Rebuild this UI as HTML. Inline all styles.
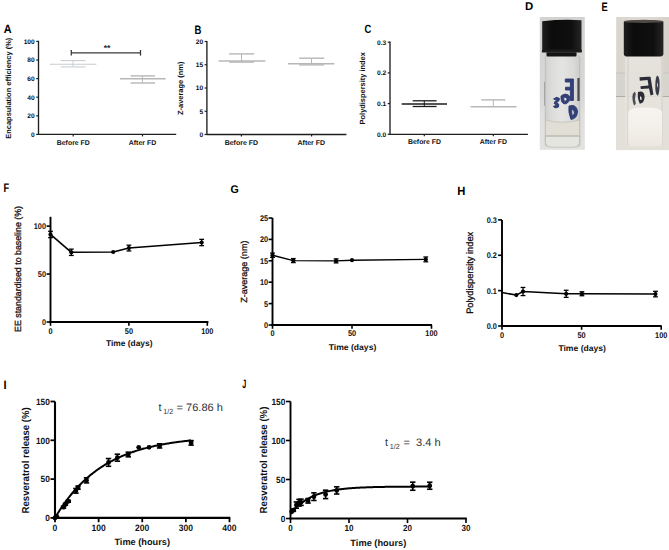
<!DOCTYPE html>
<html><head><meta charset="utf-8"><style>
html,body{margin:0;padding:0;background:#fff;overflow:hidden;}
svg{display:block;}
text{font-family:"Liberation Sans", sans-serif;text-rendering:geometricPrecision;}
</style></head><body>
<svg width="669" height="550" viewBox="0 0 669 550">
<rect width="669" height="550" fill="#fff"/>
<text transform="translate(3.83 33.40) scale(0.902 1)" font-size="12.06" font-weight="bold" fill="#000">A</text>
<line x1="38.50" y1="40.80" x2="38.50" y2="135.00" stroke="#1e1e1e" stroke-width="1.35"/>
<line x1="36.20" y1="41.40" x2="38.50" y2="41.40" stroke="#1e1e1e" stroke-width="1.2"/>
<text x="34.70" y="43.75" font-size="6.6" font-weight="bold" fill="#111" text-anchor="end">100</text>
<line x1="36.20" y1="60.00" x2="38.50" y2="60.00" stroke="#1e1e1e" stroke-width="1.2"/>
<text x="34.70" y="62.35" font-size="6.6" font-weight="bold" fill="#111" text-anchor="end">80</text>
<line x1="36.20" y1="78.60" x2="38.50" y2="78.60" stroke="#1e1e1e" stroke-width="1.2"/>
<text x="34.70" y="80.95" font-size="6.6" font-weight="bold" fill="#111" text-anchor="end">60</text>
<line x1="36.20" y1="97.20" x2="38.50" y2="97.20" stroke="#1e1e1e" stroke-width="1.2"/>
<text x="34.70" y="99.55" font-size="6.6" font-weight="bold" fill="#111" text-anchor="end">40</text>
<line x1="36.20" y1="115.80" x2="38.50" y2="115.80" stroke="#1e1e1e" stroke-width="1.2"/>
<text x="34.70" y="118.15" font-size="6.6" font-weight="bold" fill="#111" text-anchor="end">20</text>
<line x1="36.20" y1="134.40" x2="38.50" y2="134.40" stroke="#1e1e1e" stroke-width="1.2"/>
<text x="34.70" y="136.75" font-size="6.6" font-weight="bold" fill="#111" text-anchor="end">0</text>
<line x1="38.50" y1="134.40" x2="176.20" y2="134.40" stroke="#1e1e1e" stroke-width="1.35"/>
<line x1="73.20" y1="134.40" x2="73.20" y2="136.40" stroke="#1e1e1e" stroke-width="1.2"/>
<line x1="142.50" y1="134.40" x2="142.50" y2="136.40" stroke="#1e1e1e" stroke-width="1.2"/>
<text x="73.30" y="144.70" font-size="7" font-weight="bold" fill="#111" text-anchor="middle" textLength="33" lengthAdjust="spacingAndGlyphs">Before FD</text>
<text x="142.50" y="144.70" font-size="7" font-weight="bold" fill="#111" text-anchor="middle" textLength="27.4" lengthAdjust="spacingAndGlyphs">After FD</text>
<text x="10.90" y="88.20" font-size="7.5" font-weight="bold" fill="#111" text-anchor="middle" transform="rotate(-90 10.90 88.20)" textLength="101" lengthAdjust="spacingAndGlyphs">Encapsulation efficiency (%)</text>
<line x1="71.30" y1="52.80" x2="140.50" y2="52.80" stroke="#3a3a3a" stroke-width="1.3"/>
<line x1="71.30" y1="50.00" x2="71.30" y2="55.60" stroke="#3a3a3a" stroke-width="1.3"/>
<line x1="140.50" y1="50.00" x2="140.50" y2="55.60" stroke="#3a3a3a" stroke-width="1.3"/>
<text x="107.10" y="51.40" font-size="8.6" font-weight="bold" fill="#333" text-anchor="middle">**</text>
<line x1="49.60" y1="64.30" x2="96.40" y2="64.30" stroke="#c9ccd1" stroke-width="1.1"/>
<line x1="60.70" y1="60.60" x2="85.50" y2="60.60" stroke="#c9ccd1" stroke-width="1.1"/>
<line x1="60.70" y1="66.90" x2="85.50" y2="66.90" stroke="#c9ccd1" stroke-width="1.1"/>
<line x1="73.00" y1="60.60" x2="73.00" y2="66.90" stroke="#c9ccd1" stroke-width="0.9"/>
<line x1="120.00" y1="78.70" x2="165.60" y2="78.70" stroke="#b7b7b9" stroke-width="1.4"/>
<line x1="130.60" y1="75.90" x2="155.00" y2="75.90" stroke="#b7b7b9" stroke-width="1.4"/>
<line x1="130.60" y1="83.00" x2="155.00" y2="83.00" stroke="#b7b7b9" stroke-width="1.4"/>
<line x1="142.40" y1="75.90" x2="142.40" y2="83.00" stroke="#b7b7b9" stroke-width="1.0"/>
<text transform="translate(194.46 33.50) scale(0.779 1)" font-size="12.21" font-weight="bold" fill="#000">B</text>
<line x1="206.90" y1="40.90" x2="206.90" y2="135.10" stroke="#1e1e1e" stroke-width="1.35"/>
<line x1="204.60" y1="41.50" x2="206.90" y2="41.50" stroke="#1e1e1e" stroke-width="1.2"/>
<text x="203.10" y="43.85" font-size="6.6" font-weight="bold" fill="#111" text-anchor="end">20</text>
<line x1="204.60" y1="64.75" x2="206.90" y2="64.75" stroke="#1e1e1e" stroke-width="1.2"/>
<text x="203.10" y="67.10" font-size="6.6" font-weight="bold" fill="#111" text-anchor="end">15</text>
<line x1="204.60" y1="88.00" x2="206.90" y2="88.00" stroke="#1e1e1e" stroke-width="1.2"/>
<text x="203.10" y="90.35" font-size="6.6" font-weight="bold" fill="#111" text-anchor="end">10</text>
<line x1="204.60" y1="111.25" x2="206.90" y2="111.25" stroke="#1e1e1e" stroke-width="1.2"/>
<text x="203.10" y="113.60" font-size="6.6" font-weight="bold" fill="#111" text-anchor="end">5</text>
<line x1="204.60" y1="134.50" x2="206.90" y2="134.50" stroke="#1e1e1e" stroke-width="1.2"/>
<text x="203.10" y="136.85" font-size="6.6" font-weight="bold" fill="#111" text-anchor="end">0</text>
<line x1="206.90" y1="134.50" x2="346.40" y2="134.50" stroke="#1e1e1e" stroke-width="1.35"/>
<line x1="241.40" y1="134.50" x2="241.40" y2="136.50" stroke="#1e1e1e" stroke-width="1.2"/>
<line x1="311.60" y1="134.50" x2="311.60" y2="136.50" stroke="#1e1e1e" stroke-width="1.2"/>
<text x="241.40" y="144.80" font-size="7" font-weight="bold" fill="#111" text-anchor="middle" textLength="33.4" lengthAdjust="spacingAndGlyphs">Before FD</text>
<text x="311.30" y="144.80" font-size="7" font-weight="bold" fill="#111" text-anchor="middle" textLength="27.6" lengthAdjust="spacingAndGlyphs">After FD</text>
<text x="183.00" y="88.30" font-size="7.5" font-weight="bold" fill="#111" text-anchor="middle" transform="rotate(-90 183.00 88.30)" textLength="53.4" lengthAdjust="spacingAndGlyphs">Z-average (nm)</text>
<line x1="218.50" y1="61.00" x2="265.30" y2="61.00" stroke="#b7b7b9" stroke-width="1.4"/>
<line x1="229.10" y1="53.90" x2="254.20" y2="53.90" stroke="#b7b7b9" stroke-width="1.4"/>
<line x1="229.10" y1="62.10" x2="254.20" y2="62.10" stroke="#b7b7b9" stroke-width="1.4"/>
<line x1="241.50" y1="53.70" x2="241.50" y2="62.10" stroke="#b7b7b9" stroke-width="1.0"/>
<line x1="288.00" y1="63.80" x2="334.40" y2="63.80" stroke="#b7b7b9" stroke-width="1.4"/>
<line x1="299.10" y1="58.20" x2="324.20" y2="58.20" stroke="#b7b7b9" stroke-width="1.4"/>
<line x1="299.10" y1="64.90" x2="324.20" y2="64.90" stroke="#b7b7b9" stroke-width="1.4"/>
<line x1="311.50" y1="58.20" x2="311.50" y2="64.90" stroke="#b7b7b9" stroke-width="1.0"/>
<text transform="translate(364.42 33.38) scale(0.786 1)" font-size="11.86" font-weight="bold" fill="#000">C</text>
<line x1="390.00" y1="41.60" x2="390.00" y2="134.90" stroke="#1e1e1e" stroke-width="1.35"/>
<line x1="387.70" y1="42.20" x2="390.00" y2="42.20" stroke="#1e1e1e" stroke-width="1.2"/>
<text x="386.20" y="44.55" font-size="6.6" font-weight="bold" fill="#111" text-anchor="end">0.3</text>
<line x1="387.70" y1="72.90" x2="390.00" y2="72.90" stroke="#1e1e1e" stroke-width="1.2"/>
<text x="386.20" y="75.25" font-size="6.6" font-weight="bold" fill="#111" text-anchor="end">0.2</text>
<line x1="387.70" y1="103.60" x2="390.00" y2="103.60" stroke="#1e1e1e" stroke-width="1.2"/>
<text x="386.20" y="105.95" font-size="6.6" font-weight="bold" fill="#111" text-anchor="end">0.1</text>
<line x1="387.70" y1="134.30" x2="390.00" y2="134.30" stroke="#1e1e1e" stroke-width="1.2"/>
<text x="386.20" y="136.65" font-size="6.6" font-weight="bold" fill="#111" text-anchor="end">0.0</text>
<line x1="390.00" y1="134.30" x2="527.90" y2="134.30" stroke="#1e1e1e" stroke-width="1.35"/>
<line x1="424.30" y1="134.30" x2="424.30" y2="136.30" stroke="#1e1e1e" stroke-width="1.2"/>
<line x1="493.30" y1="134.30" x2="493.30" y2="136.30" stroke="#1e1e1e" stroke-width="1.2"/>
<text x="424.50" y="144.40" font-size="7" font-weight="bold" fill="#111" text-anchor="middle" textLength="33" lengthAdjust="spacingAndGlyphs">Before FD</text>
<text x="493.40" y="144.40" font-size="7" font-weight="bold" fill="#111" text-anchor="middle" textLength="27.4" lengthAdjust="spacingAndGlyphs">After FD</text>
<text x="365.20" y="88.30" font-size="7.5" font-weight="bold" fill="#111" text-anchor="middle" transform="rotate(-90 365.20 88.30)" textLength="72.2" lengthAdjust="spacingAndGlyphs">Polydispersity index</text>
<line x1="401.70" y1="104.00" x2="447.00" y2="104.00" stroke="#1c1c1c" stroke-width="1.4"/>
<line x1="412.70" y1="100.80" x2="436.60" y2="100.80" stroke="#1c1c1c" stroke-width="1.3"/>
<line x1="412.70" y1="106.50" x2="436.60" y2="106.50" stroke="#1c1c1c" stroke-width="1.3"/>
<line x1="424.30" y1="100.80" x2="424.30" y2="106.50" stroke="#1c1c1c" stroke-width="1.0"/>
<line x1="470.60" y1="106.80" x2="516.50" y2="106.80" stroke="#b7b7b9" stroke-width="1.4"/>
<line x1="481.30" y1="99.90" x2="505.40" y2="99.90" stroke="#b7b7b9" stroke-width="1.4"/>
<line x1="493.30" y1="99.90" x2="493.30" y2="106.80" stroke="#b7b7b9" stroke-width="1.0"/>
<text transform="translate(524.93 10.40) scale(1.020 1)" font-size="11.19" font-weight="bold" fill="#000">D</text>
<text transform="translate(601.48 10.90) scale(0.759 1)" font-size="12.21" font-weight="bold" fill="#000">E</text>
<defs>
<linearGradient id="dbg" x1="0" y1="0" x2="0" y2="1">
<stop offset="0" stop-color="#d2d2d0"/><stop offset="0.6" stop-color="#d8d8d6"/><stop offset="0.75" stop-color="#e0e0de"/><stop offset="1" stop-color="#e2e2e0"/>
</linearGradient>
<linearGradient id="dglass" x1="0" y1="0" x2="1" y2="0">
<stop offset="0" stop-color="#cfcfcd"/><stop offset="0.2" stop-color="#dcdcda"/><stop offset="0.5" stop-color="#e4e4e2"/><stop offset="0.8" stop-color="#dadad8"/><stop offset="1" stop-color="#cbcbc9"/>
</linearGradient>
<linearGradient id="dliq" x1="0" y1="0" x2="0" y2="1">
<stop offset="0" stop-color="#e6e5da"/><stop offset="0.6" stop-color="#e9e8de"/><stop offset="1" stop-color="#dedcd2"/>
</linearGradient>
<linearGradient id="ebg" x1="0" y1="0" x2="1" y2="0">
<stop offset="0" stop-color="#d9d5cd"/><stop offset="0.5" stop-color="#e0dcd5"/><stop offset="1" stop-color="#d6d2ca"/>
</linearGradient>
<linearGradient id="cap" x1="0" y1="0" x2="1" y2="0">
<stop offset="0" stop-color="#1e1e1e"/><stop offset="0.25" stop-color="#0c0c0c"/><stop offset="0.75" stop-color="#0f0f0f"/><stop offset="1" stop-color="#262626"/>
</linearGradient>
<linearGradient id="epow" x1="0" y1="0" x2="0" y2="1">
<stop offset="0" stop-color="#f6f4f0"/><stop offset="0.5" stop-color="#f3f0ea"/><stop offset="1" stop-color="#ece8e0"/>
</linearGradient>
</defs>
<!-- D -->
<rect x="539.8" y="17" width="45" height="132.8" fill="url(#dbg)"/>
<rect x="544.6" y="54" width="35.8" height="93.5" rx="4" fill="url(#dglass)"/>
<path d="M545.2 120 Q562.5 124.5 579.9 120 L579.9 136 L545.2 136 Z" fill="#e1dfd5"/>
<path d="M545.2 136 L579.9 136 L579.9 141 Q579.9 147.2 572 147.2 L553 147.2 Q545.2 147.2 545.2 141 Z" fill="#e5e5df" stroke="#c2c2ba" stroke-width="0.8"/>
<path d="M545.2 120 Q562.5 124.5 579.9 120" stroke="#c6c5bb" stroke-width="0.9" fill="none"/>
<rect x="545.2" y="135.5" width="34.7" height="1" fill="#b4b3aa"/>
<rect x="546.5" y="52.3" width="30" height="4.2" rx="1" fill="#141414"/>
<path d="M542.2 21.2 Q562 19 581.5 20.2 L581.5 50.4 L542.2 50.4 Z" fill="url(#cap)"/>
<rect x="541.9" y="49.6" width="40" height="3" rx="1.2" fill="#1c1c1c"/>
<rect x="544.2" y="81.7" width="0.9" height="24" fill="#9a9a9a"/>
<rect x="545" y="56" width="0.8" height="90" fill="#bdbdbb"/>
<rect x="579.3" y="56" width="0.8" height="90" fill="#bdbdbb"/>
<rect x="577.4" y="78" width="2.2" height="23" fill="#4a4a4e"/>
<g fill="#33407a" stroke="#2e3a70" stroke-width="0.9" stroke-linejoin="round">
<path d="M565.3 79 L573.4 79 L573.4 100.5 L570.4 100.5 L570.4 90 L565.5 90 L565.5 87.2 L570.4 87.2 L570.4 82 L565.3 82 Z"/>
<path d="M561 96 Q566 92 569.8 96.5 Q570.5 102.5 565 104 Q560.5 103.5 561 96 Z M563.6 97.6 Q566.5 96.5 567 99.5 Q566 101.8 564 101 Z" fill-rule="evenodd"/>
<path d="M553.5 99 Q556.5 96 559.5 98.5 Q559.5 101.5 556.5 102.5 Q560 104 558.5 107 Q555 109 553.3 106.5 L555.5 105.5 Q556.5 104 554 103.5 L555 101.5 Q557.5 100 555 99.5 Z"/>
<path d="M569 106 Q576 103.5 577.5 111 Q577.5 118.5 571 119.5 Q568 112 569 106 Z M571.5 109 Q574.5 110 574.5 113 Q573.5 116 572 115.5 Z" fill-rule="evenodd"/>
</g>
<!-- E -->
<rect x="616.2" y="17" width="52.8" height="133" fill="url(#ebg)"/>
<rect x="616.2" y="72.9" width="52.8" height="23.6" fill="#d6d4cf"/>
<rect x="616.2" y="72.6" width="52.8" height="0.8" fill="#c4c1ba"/>
<rect x="616.2" y="96" width="52.8" height="1.1" fill="#aeaba4"/>
<rect x="616.2" y="97.1" width="52.8" height="53" fill="#e3e0da"/>
<rect x="625" y="55" width="38" height="91" rx="4" fill="#e6e3dd" opacity="0.85"/>
<rect x="627.5" y="57" width="1" height="88" fill="#d0cdc6"/>
<rect x="661.5" y="57" width="1" height="88" fill="#d0cdc6"/>
<path d="M628.2 112 Q630 107.6 645 107.6 Q661 107.6 662 112 L662 142.5 Q662 146.3 657 146.3 L633 146.3 Q628.2 146.3 628.2 142.5 Z" fill="url(#epow)"/>
<path d="M623.8 21.6 Q643.5 18.6 663.4 21.6 L663.4 53.8 Q663.4 56.6 659.5 56.6 L627.5 56.6 Q623.8 56.6 623.8 53.8 Z" fill="url(#cap)"/>
<ellipse cx="643.6" cy="21.4" rx="19.6" ry="1.7" fill="#4e4a44"/>
<g fill="#2b2c36">
<path d="M639.5 77.3 Q645 76.6 650.5 76.8 L653.4 94.6 L650.6 95.4 L649 88.5 L640.8 89 L640.4 86.2 L648.5 85.6 L647.6 80 L639.8 80.7 Z"/>
<path d="M657.3 75.5 Q659.8 76.5 659.6 86 Q659.3 95 657.5 95.8 Q655 94 655.3 85 Q655.5 76.5 657.3 75.5 Z M657.4 82 Q658.4 84 657.6 88 Q656.6 85 657.4 82 Z" fill-rule="evenodd" fill="#3a3c48"/>
<path d="M638 92 Q644 90 644.6 96.5 Q644.5 103 639.8 103.8 Q637 98 638 92 Z M640 96 Q642 96.5 641.8 99.5 Q640.6 100.5 640 99 Z" fill-rule="evenodd"/>
<path d="M634.5 91.8 Q636.3 92.5 635.6 95 Q634.2 99 635.8 104 L634 105.6 Q631.6 99 632.8 94 Z" fill="#4a4b55"/>
</g>

<text transform="translate(3.48 191.50) scale(0.742 1)" font-size="12.50" font-weight="bold" fill="#000">F</text>
<line x1="50.50" y1="216.80" x2="50.50" y2="322.95" stroke="#000" stroke-width="1.9"/>
<line x1="46.60" y1="226.10" x2="50.50" y2="226.10" stroke="#000" stroke-width="1.615"/>
<text x="46.00" y="229.05" font-size="8.2" font-weight="bold" fill="#111" text-anchor="end" textLength="12.31" lengthAdjust="spacingAndGlyphs">100</text>
<line x1="46.60" y1="274.05" x2="50.50" y2="274.05" stroke="#000" stroke-width="1.615"/>
<text x="46.00" y="277.00" font-size="8.2" font-weight="bold" fill="#111" text-anchor="end" textLength="8.21" lengthAdjust="spacingAndGlyphs">50</text>
<line x1="46.60" y1="322.00" x2="50.50" y2="322.00" stroke="#000" stroke-width="1.615"/>
<text x="46.00" y="324.95" font-size="8.2" font-weight="bold" fill="#111" text-anchor="end" textLength="4.1" lengthAdjust="spacingAndGlyphs">0</text>
<line x1="49.55" y1="322.00" x2="208.40" y2="322.00" stroke="#000" stroke-width="1.9"/>
<line x1="50.50" y1="322.00" x2="50.50" y2="325.80" stroke="#000" stroke-width="1.615"/>
<text x="50.50" y="333.60" font-size="8.2" font-weight="bold" fill="#111" text-anchor="middle" textLength="4.1" lengthAdjust="spacingAndGlyphs">0</text>
<line x1="128.90" y1="322.00" x2="128.90" y2="325.80" stroke="#000" stroke-width="1.615"/>
<text x="128.90" y="333.60" font-size="8.2" font-weight="bold" fill="#111" text-anchor="middle" textLength="8.21" lengthAdjust="spacingAndGlyphs">50</text>
<line x1="207.30" y1="322.00" x2="207.30" y2="325.80" stroke="#000" stroke-width="1.615"/>
<text x="207.30" y="333.60" font-size="8.2" font-weight="bold" fill="#111" text-anchor="middle" textLength="12.31" lengthAdjust="spacingAndGlyphs">100</text>
<text x="129.20" y="346.30" font-size="8.3" font-weight="bold" fill="#111" text-anchor="middle" textLength="46.6" lengthAdjust="spacingAndGlyphs">Time (days)</text>
<text x="20.60" y="269.00" font-size="9.0" fill="#111" text-anchor="middle" transform="rotate(-90 20.60 269.00)" textLength="126" lengthAdjust="spacingAndGlyphs" stroke="#111" stroke-width="0.3">EE standardised to baseline (%)</text>
<polyline points="50.50,234.44 71.35,252.28 113.22,251.99 128.90,248.06 201.66,242.50" fill="none" stroke="#000" stroke-width="1.6" stroke-linejoin="round"/>
<line x1="50.50" y1="231.28" x2="50.50" y2="237.61" stroke="#000" stroke-width="1.3"/>
<line x1="48.10" y1="231.28" x2="52.90" y2="231.28" stroke="#000" stroke-width="1.3"/>
<line x1="48.10" y1="237.61" x2="52.90" y2="237.61" stroke="#000" stroke-width="1.3"/>
<circle cx="50.50" cy="234.44" r="2.1" fill="#000"/>
<line x1="71.35" y1="249.12" x2="71.35" y2="255.45" stroke="#000" stroke-width="1.3"/>
<line x1="68.95" y1="249.12" x2="73.75" y2="249.12" stroke="#000" stroke-width="1.3"/>
<line x1="68.95" y1="255.45" x2="73.75" y2="255.45" stroke="#000" stroke-width="1.3"/>
<circle cx="71.35" cy="252.28" r="2.1" fill="#000"/>
<circle cx="113.22" cy="251.99" r="2.1" fill="#000"/>
<line x1="128.90" y1="245.18" x2="128.90" y2="250.94" stroke="#000" stroke-width="1.3"/>
<line x1="126.50" y1="245.18" x2="131.30" y2="245.18" stroke="#000" stroke-width="1.3"/>
<line x1="126.50" y1="250.94" x2="131.30" y2="250.94" stroke="#000" stroke-width="1.3"/>
<circle cx="128.90" cy="248.06" r="2.1" fill="#000"/>
<line x1="201.66" y1="239.33" x2="201.66" y2="245.66" stroke="#000" stroke-width="1.3"/>
<line x1="199.26" y1="239.33" x2="204.06" y2="239.33" stroke="#000" stroke-width="1.3"/>
<line x1="199.26" y1="245.66" x2="204.06" y2="245.66" stroke="#000" stroke-width="1.3"/>
<circle cx="201.66" cy="242.50" r="2.1" fill="#000"/>
<text transform="translate(230.46 193.39) scale(0.956 1)" font-size="11.16" font-weight="bold" fill="#000">G</text>
<line x1="272.50" y1="218.00" x2="272.50" y2="325.95" stroke="#000" stroke-width="1.9"/>
<line x1="268.60" y1="218.00" x2="272.50" y2="218.00" stroke="#000" stroke-width="1.615"/>
<text x="268.20" y="220.95" font-size="8.2" font-weight="bold" fill="#111" text-anchor="end" textLength="8.21" lengthAdjust="spacingAndGlyphs">25</text>
<line x1="268.60" y1="239.40" x2="272.50" y2="239.40" stroke="#000" stroke-width="1.615"/>
<text x="268.20" y="242.35" font-size="8.2" font-weight="bold" fill="#111" text-anchor="end" textLength="8.21" lengthAdjust="spacingAndGlyphs">20</text>
<line x1="268.60" y1="260.80" x2="272.50" y2="260.80" stroke="#000" stroke-width="1.615"/>
<text x="268.20" y="263.75" font-size="8.2" font-weight="bold" fill="#111" text-anchor="end" textLength="8.21" lengthAdjust="spacingAndGlyphs">15</text>
<line x1="268.60" y1="282.20" x2="272.50" y2="282.20" stroke="#000" stroke-width="1.615"/>
<text x="268.20" y="285.15" font-size="8.2" font-weight="bold" fill="#111" text-anchor="end" textLength="8.21" lengthAdjust="spacingAndGlyphs">10</text>
<line x1="268.60" y1="303.60" x2="272.50" y2="303.60" stroke="#000" stroke-width="1.615"/>
<text x="268.20" y="306.55" font-size="8.2" font-weight="bold" fill="#111" text-anchor="end" textLength="4.1" lengthAdjust="spacingAndGlyphs">5</text>
<line x1="268.60" y1="325.00" x2="272.50" y2="325.00" stroke="#000" stroke-width="1.615"/>
<text x="268.20" y="327.95" font-size="8.2" font-weight="bold" fill="#111" text-anchor="end" textLength="4.1" lengthAdjust="spacingAndGlyphs">0</text>
<line x1="271.55" y1="325.00" x2="432.00" y2="325.00" stroke="#000" stroke-width="1.9"/>
<line x1="272.50" y1="325.00" x2="272.50" y2="328.80" stroke="#000" stroke-width="1.615"/>
<text x="272.50" y="336.20" font-size="8.2" font-weight="bold" fill="#111" text-anchor="middle" textLength="4.1" lengthAdjust="spacingAndGlyphs">0</text>
<line x1="352.00" y1="325.00" x2="352.00" y2="328.80" stroke="#000" stroke-width="1.615"/>
<text x="352.00" y="336.20" font-size="8.2" font-weight="bold" fill="#111" text-anchor="middle" textLength="8.21" lengthAdjust="spacingAndGlyphs">50</text>
<line x1="431.50" y1="325.00" x2="431.50" y2="328.80" stroke="#000" stroke-width="1.615"/>
<text x="431.50" y="336.20" font-size="8.2" font-weight="bold" fill="#111" text-anchor="middle" textLength="12.31" lengthAdjust="spacingAndGlyphs">100</text>
<text x="352.50" y="349.70" font-size="8.3" font-weight="bold" fill="#111" text-anchor="middle" textLength="47.6" lengthAdjust="spacingAndGlyphs">Time (days)</text>
<text x="247.00" y="271.70" font-size="8.8" fill="#111" text-anchor="middle" transform="rotate(-90 247.00 271.70)" textLength="62.3" lengthAdjust="spacingAndGlyphs" stroke="#111" stroke-width="0.3">Z-average (nm)</text>
<polyline points="272.50,255.24 293.33,260.59 336.10,260.89 352.00,260.20 425.78,259.39" fill="none" stroke="#000" stroke-width="1.4" stroke-linejoin="round"/>
<line x1="272.50" y1="253.10" x2="272.50" y2="257.38" stroke="#000" stroke-width="1.3"/>
<line x1="270.10" y1="253.10" x2="274.90" y2="253.10" stroke="#000" stroke-width="1.3"/>
<line x1="270.10" y1="257.38" x2="274.90" y2="257.38" stroke="#000" stroke-width="1.3"/>
<circle cx="272.50" cy="255.24" r="2.1" fill="#000"/>
<line x1="293.33" y1="258.57" x2="293.33" y2="262.60" stroke="#000" stroke-width="1.3"/>
<line x1="290.93" y1="258.57" x2="295.73" y2="258.57" stroke="#000" stroke-width="1.3"/>
<line x1="290.93" y1="262.60" x2="295.73" y2="262.60" stroke="#000" stroke-width="1.3"/>
<circle cx="293.33" cy="260.59" r="2.1" fill="#000"/>
<line x1="336.10" y1="258.87" x2="336.10" y2="262.90" stroke="#000" stroke-width="1.3"/>
<line x1="333.70" y1="258.87" x2="338.50" y2="258.87" stroke="#000" stroke-width="1.3"/>
<line x1="333.70" y1="262.90" x2="338.50" y2="262.90" stroke="#000" stroke-width="1.3"/>
<circle cx="336.10" cy="260.89" r="2.1" fill="#000"/>
<circle cx="352.00" cy="260.20" r="2.1" fill="#000"/>
<line x1="425.78" y1="256.99" x2="425.78" y2="261.78" stroke="#000" stroke-width="1.3"/>
<line x1="423.38" y1="256.99" x2="428.18" y2="256.99" stroke="#000" stroke-width="1.3"/>
<line x1="423.38" y1="261.78" x2="428.18" y2="261.78" stroke="#000" stroke-width="1.3"/>
<circle cx="425.78" cy="259.39" r="2.1" fill="#000"/>
<text transform="translate(457.35 194.50) scale(0.942 1)" font-size="11.92" font-weight="bold" fill="#000">H</text>
<line x1="502.00" y1="219.90" x2="502.00" y2="326.95" stroke="#000" stroke-width="1.9"/>
<line x1="498.10" y1="219.90" x2="502.00" y2="219.90" stroke="#000" stroke-width="1.615"/>
<text x="496.90" y="222.85" font-size="8.2" font-weight="bold" fill="#111" text-anchor="end" textLength="10.26" lengthAdjust="spacingAndGlyphs">0.3</text>
<line x1="498.10" y1="255.27" x2="502.00" y2="255.27" stroke="#000" stroke-width="1.615"/>
<text x="496.90" y="258.22" font-size="8.2" font-weight="bold" fill="#111" text-anchor="end" textLength="10.26" lengthAdjust="spacingAndGlyphs">0.2</text>
<line x1="498.10" y1="290.63" x2="502.00" y2="290.63" stroke="#000" stroke-width="1.615"/>
<text x="496.90" y="293.59" font-size="8.2" font-weight="bold" fill="#111" text-anchor="end" textLength="10.26" lengthAdjust="spacingAndGlyphs">0.1</text>
<line x1="498.10" y1="326.00" x2="502.00" y2="326.00" stroke="#000" stroke-width="1.615"/>
<text x="496.90" y="328.95" font-size="8.2" font-weight="bold" fill="#111" text-anchor="end" textLength="10.26" lengthAdjust="spacingAndGlyphs">0.0</text>
<line x1="501.05" y1="326.00" x2="661.70" y2="326.00" stroke="#000" stroke-width="1.9"/>
<line x1="502.00" y1="326.00" x2="502.00" y2="329.80" stroke="#000" stroke-width="1.615"/>
<text x="502.00" y="337.70" font-size="8.2" font-weight="bold" fill="#111" text-anchor="middle" textLength="4.1" lengthAdjust="spacingAndGlyphs">0</text>
<line x1="581.60" y1="326.00" x2="581.60" y2="329.80" stroke="#000" stroke-width="1.615"/>
<text x="581.60" y="337.70" font-size="8.2" font-weight="bold" fill="#111" text-anchor="middle" textLength="8.21" lengthAdjust="spacingAndGlyphs">50</text>
<line x1="661.20" y1="326.00" x2="661.20" y2="329.80" stroke="#000" stroke-width="1.615"/>
<text x="661.20" y="337.70" font-size="8.2" font-weight="bold" fill="#111" text-anchor="middle" textLength="12.31" lengthAdjust="spacingAndGlyphs">100</text>
<text x="582.20" y="351.10" font-size="8.3" font-weight="bold" fill="#111" text-anchor="middle" textLength="47.6" lengthAdjust="spacingAndGlyphs">Time (days)</text>
<text x="472.70" y="272.80" font-size="9.4" fill="#111" text-anchor="middle" transform="rotate(-90 472.70 272.80)" textLength="82.1" lengthAdjust="spacingAndGlyphs" stroke="#111" stroke-width="0.3">Polydispersity index</text>
<polyline points="502.00,292.58 516.33,295.05 523.01,291.52 566.16,293.82 581.92,293.75 655.47,294.06" fill="none" stroke="#000" stroke-width="1.5" stroke-linejoin="round"/>
<circle cx="516.33" cy="295.05" r="2.1" fill="#000"/>
<line x1="523.01" y1="287.45" x2="523.01" y2="295.58" stroke="#000" stroke-width="1.3"/>
<line x1="520.61" y1="287.45" x2="525.41" y2="287.45" stroke="#000" stroke-width="1.3"/>
<line x1="520.61" y1="295.58" x2="525.41" y2="295.58" stroke="#000" stroke-width="1.3"/>
<circle cx="523.01" cy="291.52" r="2.1" fill="#000"/>
<line x1="566.16" y1="290.28" x2="566.16" y2="297.35" stroke="#000" stroke-width="1.3"/>
<line x1="563.76" y1="290.28" x2="568.56" y2="290.28" stroke="#000" stroke-width="1.3"/>
<line x1="563.76" y1="297.35" x2="568.56" y2="297.35" stroke="#000" stroke-width="1.3"/>
<circle cx="566.16" cy="293.82" r="2.1" fill="#000"/>
<line x1="581.92" y1="291.77" x2="581.92" y2="295.73" stroke="#000" stroke-width="1.3"/>
<line x1="579.52" y1="291.77" x2="584.32" y2="291.77" stroke="#000" stroke-width="1.3"/>
<line x1="579.52" y1="295.73" x2="584.32" y2="295.73" stroke="#000" stroke-width="1.3"/>
<circle cx="581.92" cy="293.75" r="2.1" fill="#000"/>
<line x1="655.47" y1="291.31" x2="655.47" y2="296.82" stroke="#000" stroke-width="1.3"/>
<line x1="653.07" y1="291.31" x2="657.87" y2="291.31" stroke="#000" stroke-width="1.3"/>
<line x1="653.07" y1="296.82" x2="657.87" y2="296.82" stroke="#000" stroke-width="1.3"/>
<circle cx="655.47" cy="294.06" r="2.1" fill="#000"/>
<text transform="translate(3.56 388.70) scale(0.910 1)" font-size="12.21" font-weight="bold" fill="#000">I</text>
<line x1="55.00" y1="401.50" x2="55.00" y2="518.85" stroke="#000" stroke-width="2.1"/>
<line x1="50.50" y1="401.50" x2="55.00" y2="401.50" stroke="#000" stroke-width="1.785"/>
<text x="49.90" y="404.74" font-size="9.0" font-weight="bold" fill="#111" text-anchor="end" textLength="13.96" lengthAdjust="spacingAndGlyphs">150</text>
<line x1="50.50" y1="440.30" x2="55.00" y2="440.30" stroke="#000" stroke-width="1.785"/>
<text x="49.90" y="443.54" font-size="9.0" font-weight="bold" fill="#111" text-anchor="end" textLength="13.96" lengthAdjust="spacingAndGlyphs">100</text>
<line x1="50.50" y1="479.10" x2="55.00" y2="479.10" stroke="#000" stroke-width="1.785"/>
<text x="49.90" y="482.34" font-size="9.0" font-weight="bold" fill="#111" text-anchor="end" textLength="9.31" lengthAdjust="spacingAndGlyphs">50</text>
<line x1="50.50" y1="517.90" x2="55.00" y2="517.90" stroke="#000" stroke-width="1.785"/>
<text x="49.90" y="521.14" font-size="9.0" font-weight="bold" fill="#111" text-anchor="end" textLength="4.65" lengthAdjust="spacingAndGlyphs">0</text>
<line x1="54.05" y1="517.90" x2="230.30" y2="517.90" stroke="#000" stroke-width="2.1"/>
<line x1="55.00" y1="517.90" x2="55.00" y2="522.20" stroke="#000" stroke-width="1.785"/>
<text x="55.00" y="530.70" font-size="9.2" font-weight="bold" fill="#111" text-anchor="middle" textLength="4.76" lengthAdjust="spacingAndGlyphs">0</text>
<line x1="98.62" y1="517.90" x2="98.62" y2="522.20" stroke="#000" stroke-width="1.785"/>
<text x="98.62" y="530.70" font-size="9.2" font-weight="bold" fill="#111" text-anchor="middle" textLength="14.27" lengthAdjust="spacingAndGlyphs">100</text>
<line x1="142.25" y1="517.90" x2="142.25" y2="522.20" stroke="#000" stroke-width="1.785"/>
<text x="142.25" y="530.70" font-size="9.2" font-weight="bold" fill="#111" text-anchor="middle" textLength="14.27" lengthAdjust="spacingAndGlyphs">200</text>
<line x1="185.88" y1="517.90" x2="185.88" y2="522.20" stroke="#000" stroke-width="1.785"/>
<text x="185.88" y="530.70" font-size="9.2" font-weight="bold" fill="#111" text-anchor="middle" textLength="14.27" lengthAdjust="spacingAndGlyphs">300</text>
<line x1="229.50" y1="517.90" x2="229.50" y2="522.20" stroke="#000" stroke-width="1.785"/>
<text x="229.50" y="530.70" font-size="9.2" font-weight="bold" fill="#111" text-anchor="middle" textLength="14.27" lengthAdjust="spacingAndGlyphs">400</text>
<text x="142.20" y="545.40" font-size="9.2" font-weight="bold" fill="#111" text-anchor="middle" textLength="55.6" lengthAdjust="spacingAndGlyphs">Time (hours)</text>
<text x="28.80" y="460.40" font-size="10.1" font-weight="bold" fill="#111" text-anchor="middle" transform="rotate(-90 28.80 460.40)" textLength="106" lengthAdjust="spacingAndGlyphs">Resveratrol release (%)</text>
<polyline points="55.00,517.90 55.87,516.43 56.74,514.98 57.62,513.56 58.49,512.16 59.36,510.79 60.23,509.45 61.11,508.13 61.98,506.83 62.85,505.55 63.73,504.30 64.60,503.07 65.47,501.86 66.34,500.67 67.22,499.51 68.09,498.37 68.96,497.24 69.83,496.14 70.70,495.05 71.58,493.99 72.45,492.94 73.32,491.92 74.19,490.91 75.07,489.92 75.94,488.94 76.81,487.99 77.69,487.05 78.56,486.13 79.43,485.22 80.30,484.33 81.17,483.46 82.05,482.60 82.92,481.76 83.79,480.93 84.66,480.12 85.54,479.32 86.41,478.54 87.28,477.77 88.16,477.02 89.03,476.27 89.90,475.54 90.77,474.83 91.65,474.12 92.52,473.43 93.39,472.76 94.26,472.09 95.13,471.44 96.01,470.79 96.88,470.16 97.75,469.54 98.62,468.93 99.50,468.34 100.37,467.75 101.24,467.17 102.12,466.61 102.99,466.05 103.86,465.50 104.73,464.97 105.60,464.44 106.48,463.92 107.35,463.41 108.22,462.91 109.09,462.42 109.97,461.94 110.84,461.47 111.71,461.01 112.59,460.55 113.46,460.10 114.33,459.66 115.20,459.23 116.08,458.81 116.95,458.39 117.82,457.98 118.69,457.58 119.56,457.18 120.44,456.79 121.31,456.41 122.18,456.04 123.06,455.67 123.93,455.31 124.80,454.96 125.67,454.61 126.55,454.27 127.42,453.93 128.29,453.60 129.16,453.28 130.03,452.96 130.91,452.65 131.78,452.34 132.65,452.04 133.53,451.74 134.40,451.45 135.27,451.17 136.14,450.89 137.01,450.61 137.89,450.34 138.76,450.08 139.63,449.82 140.50,449.56 141.38,449.31 142.25,449.06 143.12,448.82 144.00,448.58 144.87,448.35 145.74,448.12 146.61,447.89 147.49,447.67 148.36,447.45 149.23,447.24 150.10,447.03 150.97,446.82 151.85,446.62 152.72,446.42 153.59,446.22 154.47,446.03 155.34,445.84 156.21,445.66 157.08,445.48 157.95,445.30 158.83,445.12 159.70,444.95 160.57,444.78 161.44,444.62 162.32,444.45 163.19,444.29 164.06,444.14 164.94,443.98 165.81,443.83 166.68,443.68 167.55,443.53 168.43,443.39 169.30,443.25 170.17,443.11 171.04,442.97 171.92,442.84 172.79,442.71 173.66,442.58 174.53,442.45 175.41,442.33 176.28,442.21 177.15,442.09 178.02,441.97 178.89,441.85 179.77,441.74 180.64,441.63 181.51,441.52 182.38,441.41 183.26,441.30 184.13,441.20 185.00,441.10 185.88,441.00 186.75,440.90 187.62,440.80 188.49,440.71 189.37,440.61 190.24,440.52 191.11,440.43" fill="none" stroke="#000" stroke-width="2.0" stroke-linejoin="round"/>
<circle cx="55.00" cy="517.90" r="2.4" fill="#000"/>
<circle cx="56.74" cy="516.35" r="2.4" fill="#000"/>
<line x1="63.55" y1="506.18" x2="63.55" y2="508.04" stroke="#000" stroke-width="1.6"/>
<line x1="60.85" y1="506.18" x2="66.25" y2="506.18" stroke="#000" stroke-width="1.6"/>
<line x1="60.85" y1="508.04" x2="66.25" y2="508.04" stroke="#000" stroke-width="1.6"/>
<circle cx="63.55" cy="507.11" r="2.4" fill="#000"/>
<line x1="65.47" y1="503.39" x2="65.47" y2="505.25" stroke="#000" stroke-width="1.6"/>
<line x1="62.77" y1="503.39" x2="68.17" y2="503.39" stroke="#000" stroke-width="1.6"/>
<line x1="62.77" y1="505.25" x2="68.17" y2="505.25" stroke="#000" stroke-width="1.6"/>
<circle cx="65.47" cy="504.32" r="2.4" fill="#000"/>
<line x1="68.35" y1="500.36" x2="68.35" y2="502.22" stroke="#000" stroke-width="1.6"/>
<line x1="65.65" y1="500.36" x2="71.05" y2="500.36" stroke="#000" stroke-width="1.6"/>
<line x1="65.65" y1="502.22" x2="71.05" y2="502.22" stroke="#000" stroke-width="1.6"/>
<circle cx="68.35" cy="501.29" r="2.4" fill="#000"/>
<line x1="75.94" y1="488.49" x2="75.94" y2="493.15" stroke="#000" stroke-width="1.6"/>
<line x1="73.24" y1="488.49" x2="78.64" y2="488.49" stroke="#000" stroke-width="1.6"/>
<line x1="73.24" y1="493.15" x2="78.64" y2="493.15" stroke="#000" stroke-width="1.6"/>
<circle cx="75.94" cy="490.82" r="2.4" fill="#000"/>
<line x1="78.03" y1="486.08" x2="78.03" y2="489.19" stroke="#000" stroke-width="1.6"/>
<line x1="75.33" y1="486.08" x2="80.73" y2="486.08" stroke="#000" stroke-width="1.6"/>
<line x1="75.33" y1="489.19" x2="80.73" y2="489.19" stroke="#000" stroke-width="1.6"/>
<circle cx="78.03" cy="487.64" r="2.4" fill="#000"/>
<line x1="86.50" y1="477.78" x2="86.50" y2="482.90" stroke="#000" stroke-width="1.6"/>
<line x1="83.80" y1="477.78" x2="89.20" y2="477.78" stroke="#000" stroke-width="1.6"/>
<line x1="83.80" y1="482.90" x2="89.20" y2="482.90" stroke="#000" stroke-width="1.6"/>
<circle cx="86.50" cy="480.34" r="2.4" fill="#000"/>
<line x1="108.53" y1="458.54" x2="108.53" y2="466.30" stroke="#000" stroke-width="1.6"/>
<line x1="105.83" y1="458.54" x2="111.23" y2="458.54" stroke="#000" stroke-width="1.6"/>
<line x1="105.83" y1="466.30" x2="111.23" y2="466.30" stroke="#000" stroke-width="1.6"/>
<circle cx="108.53" cy="462.42" r="2.4" fill="#000"/>
<line x1="117.38" y1="454.19" x2="117.38" y2="461.17" stroke="#000" stroke-width="1.6"/>
<line x1="114.68" y1="454.19" x2="120.08" y2="454.19" stroke="#000" stroke-width="1.6"/>
<line x1="114.68" y1="461.17" x2="120.08" y2="461.17" stroke="#000" stroke-width="1.6"/>
<circle cx="117.38" cy="457.68" r="2.4" fill="#000"/>
<line x1="128.29" y1="452.17" x2="128.29" y2="456.83" stroke="#000" stroke-width="1.6"/>
<line x1="125.59" y1="452.17" x2="130.99" y2="452.17" stroke="#000" stroke-width="1.6"/>
<line x1="125.59" y1="456.83" x2="130.99" y2="456.83" stroke="#000" stroke-width="1.6"/>
<circle cx="128.29" cy="454.50" r="2.4" fill="#000"/>
<circle cx="138.72" cy="447.28" r="2.4" fill="#000"/>
<circle cx="149.06" cy="447.28" r="2.4" fill="#000"/>
<line x1="159.61" y1="443.79" x2="159.61" y2="447.98" stroke="#000" stroke-width="1.6"/>
<line x1="156.91" y1="443.79" x2="162.31" y2="443.79" stroke="#000" stroke-width="1.6"/>
<line x1="156.91" y1="447.98" x2="162.31" y2="447.98" stroke="#000" stroke-width="1.6"/>
<circle cx="159.61" cy="445.89" r="2.4" fill="#000"/>
<line x1="191.11" y1="440.61" x2="191.11" y2="445.11" stroke="#000" stroke-width="1.6"/>
<line x1="188.41" y1="440.61" x2="193.81" y2="440.61" stroke="#000" stroke-width="1.6"/>
<line x1="188.41" y1="445.11" x2="193.81" y2="445.11" stroke="#000" stroke-width="1.6"/>
<circle cx="191.11" cy="442.86" r="2.4" fill="#000"/>
<g fill="#333" font-weight="normal"><text x="158.6" y="411.1" font-size="10.8">t</text><text x="163.3" y="414.1" font-size="7.4" textLength="10" lengthAdjust="spacingAndGlyphs">1/2</text><text x="176.6" y="411.1" font-size="10.8" textLength="46.3" lengthAdjust="spacingAndGlyphs">= 76.86 h</text></g>
<text transform="translate(242.29 388.38) scale(0.597 1)" font-size="12.03" font-weight="bold" fill="#000">J</text>
<line x1="290.50" y1="401.50" x2="290.50" y2="519.45" stroke="#000" stroke-width="1.9"/>
<line x1="286.00" y1="401.50" x2="290.50" y2="401.50" stroke="#000" stroke-width="1.615"/>
<text x="285.40" y="404.74" font-size="9.0" font-weight="bold" fill="#111" text-anchor="end" textLength="13.96" lengthAdjust="spacingAndGlyphs">150</text>
<line x1="286.00" y1="440.50" x2="290.50" y2="440.50" stroke="#000" stroke-width="1.615"/>
<text x="285.40" y="443.74" font-size="9.0" font-weight="bold" fill="#111" text-anchor="end" textLength="13.96" lengthAdjust="spacingAndGlyphs">100</text>
<line x1="286.00" y1="479.50" x2="290.50" y2="479.50" stroke="#000" stroke-width="1.615"/>
<text x="285.40" y="482.74" font-size="9.0" font-weight="bold" fill="#111" text-anchor="end" textLength="9.31" lengthAdjust="spacingAndGlyphs">50</text>
<line x1="286.00" y1="518.50" x2="290.50" y2="518.50" stroke="#000" stroke-width="1.615"/>
<text x="285.40" y="521.74" font-size="9.0" font-weight="bold" fill="#111" text-anchor="end" textLength="4.65" lengthAdjust="spacingAndGlyphs">0</text>
<line x1="289.55" y1="518.50" x2="466.80" y2="518.50" stroke="#000" stroke-width="1.9"/>
<line x1="290.50" y1="518.50" x2="290.50" y2="523.10" stroke="#000" stroke-width="1.615"/>
<text x="290.50" y="531.10" font-size="8.8" font-weight="bold" fill="#111" text-anchor="middle" textLength="4.5" lengthAdjust="spacingAndGlyphs">0</text>
<line x1="349.00" y1="518.50" x2="349.00" y2="523.10" stroke="#000" stroke-width="1.615"/>
<text x="349.00" y="531.10" font-size="8.8" font-weight="bold" fill="#111" text-anchor="middle" textLength="9.0" lengthAdjust="spacingAndGlyphs">10</text>
<line x1="407.50" y1="518.50" x2="407.50" y2="523.10" stroke="#000" stroke-width="1.615"/>
<text x="407.50" y="531.10" font-size="8.8" font-weight="bold" fill="#111" text-anchor="middle" textLength="9.0" lengthAdjust="spacingAndGlyphs">20</text>
<line x1="466.00" y1="518.50" x2="466.00" y2="523.10" stroke="#000" stroke-width="1.615"/>
<text x="466.00" y="531.10" font-size="8.8" font-weight="bold" fill="#111" text-anchor="middle" textLength="9.0" lengthAdjust="spacingAndGlyphs">30</text>
<text x="378.30" y="546.00" font-size="9.2" font-weight="bold" fill="#111" text-anchor="middle" textLength="55.9" lengthAdjust="spacingAndGlyphs">Time (hours)</text>
<text x="267.00" y="460.00" font-size="10.2" font-weight="bold" fill="#111" text-anchor="middle" transform="rotate(-90 267.00 460.00)" textLength="106.9" lengthAdjust="spacingAndGlyphs">Resveratrol release (%)</text>
<polyline points="290.50,513.82 291.67,512.38 292.84,511.03 294.01,509.74 295.18,508.52 296.35,507.36 297.52,506.26 298.69,505.23 299.86,504.24 301.03,503.31 302.20,502.43 303.37,501.59 304.54,500.80 305.71,500.05 306.88,499.34 308.05,498.66 309.22,498.03 310.39,497.42 311.56,496.85 312.73,496.31 313.90,495.79 315.07,495.30 316.24,494.84 317.41,494.40 318.58,493.99 319.75,493.60 320.92,493.23 322.09,492.87 323.26,492.54 324.43,492.22 325.60,491.92 326.77,491.64 327.94,491.37 329.11,491.11 330.28,490.87 331.45,490.64 332.62,490.43 333.79,490.22 334.96,490.03 336.13,489.84 337.30,489.67 338.47,489.50 339.64,489.35 340.81,489.20 341.98,489.06 343.15,488.92 344.32,488.80 345.49,488.68 346.66,488.56 347.83,488.46 349.00,488.35 350.17,488.26 351.34,488.17 352.51,488.08 353.68,488.00 354.85,487.92 356.02,487.85 357.19,487.78 358.36,487.71 359.53,487.65 360.70,487.59 361.87,487.53 363.04,487.48 364.21,487.43 365.38,487.38 366.55,487.34 367.72,487.29 368.89,487.25 370.06,487.21 371.23,487.18 372.40,487.14 373.57,487.11 374.74,487.08 375.91,487.05 377.08,487.02 378.25,487.00 379.42,486.97 380.59,486.95 381.76,486.92 382.93,486.90 384.10,486.88 385.27,486.86 386.44,486.85 387.61,486.83 388.78,486.81 389.95,486.80 391.12,486.78 392.29,486.77 393.46,486.76 394.63,486.74 395.80,486.73 396.97,486.72 398.14,486.71 399.31,486.70 400.48,486.69 401.65,486.68 402.82,486.67 403.99,486.66 405.16,486.66 406.33,486.65 407.50,486.64 408.67,486.64 409.84,486.63 411.01,486.62 412.18,486.62 413.35,486.61 414.52,486.61 415.69,486.60 416.86,486.60 418.03,486.60 419.20,486.59 420.37,486.59 421.54,486.58 422.71,486.58 423.88,486.58 425.05,486.57 426.22,486.57 427.39,486.57 428.56,486.57 429.73,486.56 430.90,486.56" fill="none" stroke="#000" stroke-width="2.0" stroke-linejoin="round"/>
<circle cx="291.67" cy="511.87" r="2.4" fill="#000"/>
<line x1="293.43" y1="508.98" x2="293.43" y2="511.32" stroke="#000" stroke-width="1.6"/>
<line x1="290.73" y1="508.98" x2="296.12" y2="508.98" stroke="#000" stroke-width="1.6"/>
<line x1="290.73" y1="511.32" x2="296.12" y2="511.32" stroke="#000" stroke-width="1.6"/>
<circle cx="293.43" cy="510.15" r="2.4" fill="#000"/>
<line x1="296.35" y1="501.96" x2="296.35" y2="508.20" stroke="#000" stroke-width="1.6"/>
<line x1="293.65" y1="501.96" x2="299.05" y2="501.96" stroke="#000" stroke-width="1.6"/>
<line x1="293.65" y1="508.20" x2="299.05" y2="508.20" stroke="#000" stroke-width="1.6"/>
<circle cx="296.35" cy="505.08" r="2.4" fill="#000"/>
<line x1="298.98" y1="499.39" x2="298.98" y2="506.10" stroke="#000" stroke-width="1.6"/>
<line x1="296.28" y1="499.39" x2="301.68" y2="499.39" stroke="#000" stroke-width="1.6"/>
<line x1="296.28" y1="506.10" x2="301.68" y2="506.10" stroke="#000" stroke-width="1.6"/>
<circle cx="298.98" cy="502.74" r="2.4" fill="#000"/>
<line x1="301.03" y1="499.16" x2="301.03" y2="505.40" stroke="#000" stroke-width="1.6"/>
<line x1="298.33" y1="499.16" x2="303.73" y2="499.16" stroke="#000" stroke-width="1.6"/>
<line x1="298.33" y1="505.40" x2="303.73" y2="505.40" stroke="#000" stroke-width="1.6"/>
<circle cx="301.03" cy="502.28" r="2.4" fill="#000"/>
<line x1="308.05" y1="498.53" x2="308.05" y2="503.06" stroke="#000" stroke-width="1.6"/>
<line x1="305.35" y1="498.53" x2="310.75" y2="498.53" stroke="#000" stroke-width="1.6"/>
<line x1="305.35" y1="503.06" x2="310.75" y2="503.06" stroke="#000" stroke-width="1.6"/>
<circle cx="308.05" cy="500.79" r="2.4" fill="#000"/>
<line x1="313.90" y1="492.84" x2="313.90" y2="500.48" stroke="#000" stroke-width="1.6"/>
<line x1="311.20" y1="492.84" x2="316.60" y2="492.84" stroke="#000" stroke-width="1.6"/>
<line x1="311.20" y1="500.48" x2="316.60" y2="500.48" stroke="#000" stroke-width="1.6"/>
<circle cx="313.90" cy="496.66" r="2.4" fill="#000"/>
<line x1="325.60" y1="490.19" x2="325.60" y2="498.61" stroke="#000" stroke-width="1.6"/>
<line x1="322.90" y1="490.19" x2="328.30" y2="490.19" stroke="#000" stroke-width="1.6"/>
<line x1="322.90" y1="498.61" x2="328.30" y2="498.61" stroke="#000" stroke-width="1.6"/>
<circle cx="325.60" cy="494.40" r="2.4" fill="#000"/>
<line x1="336.72" y1="486.83" x2="336.72" y2="494.01" stroke="#000" stroke-width="1.6"/>
<line x1="334.02" y1="486.83" x2="339.42" y2="486.83" stroke="#000" stroke-width="1.6"/>
<line x1="334.02" y1="494.01" x2="339.42" y2="494.01" stroke="#000" stroke-width="1.6"/>
<circle cx="336.72" cy="490.42" r="2.4" fill="#000"/>
<line x1="412.76" y1="482.15" x2="412.76" y2="490.26" stroke="#000" stroke-width="1.6"/>
<line x1="410.06" y1="482.15" x2="415.46" y2="482.15" stroke="#000" stroke-width="1.6"/>
<line x1="410.06" y1="490.26" x2="415.46" y2="490.26" stroke="#000" stroke-width="1.6"/>
<circle cx="412.76" cy="486.21" r="2.4" fill="#000"/>
<line x1="429.73" y1="482.23" x2="429.73" y2="489.25" stroke="#000" stroke-width="1.6"/>
<line x1="427.03" y1="482.23" x2="432.43" y2="482.23" stroke="#000" stroke-width="1.6"/>
<line x1="427.03" y1="489.25" x2="432.43" y2="489.25" stroke="#000" stroke-width="1.6"/>
<circle cx="429.73" cy="485.74" r="2.4" fill="#000"/>
<g fill="#333" font-weight="normal"><text x="385.0" y="445.5" font-size="10.8">t</text><text x="389.8" y="448.5" font-size="7.4" textLength="10" lengthAdjust="spacingAndGlyphs">1/2</text><text x="403.6" y="445.5" font-size="10.8">=</text><text x="416.0" y="445.5" font-size="10.8" textLength="24.6" lengthAdjust="spacingAndGlyphs">3.4 h</text></g>
</svg></body></html>
